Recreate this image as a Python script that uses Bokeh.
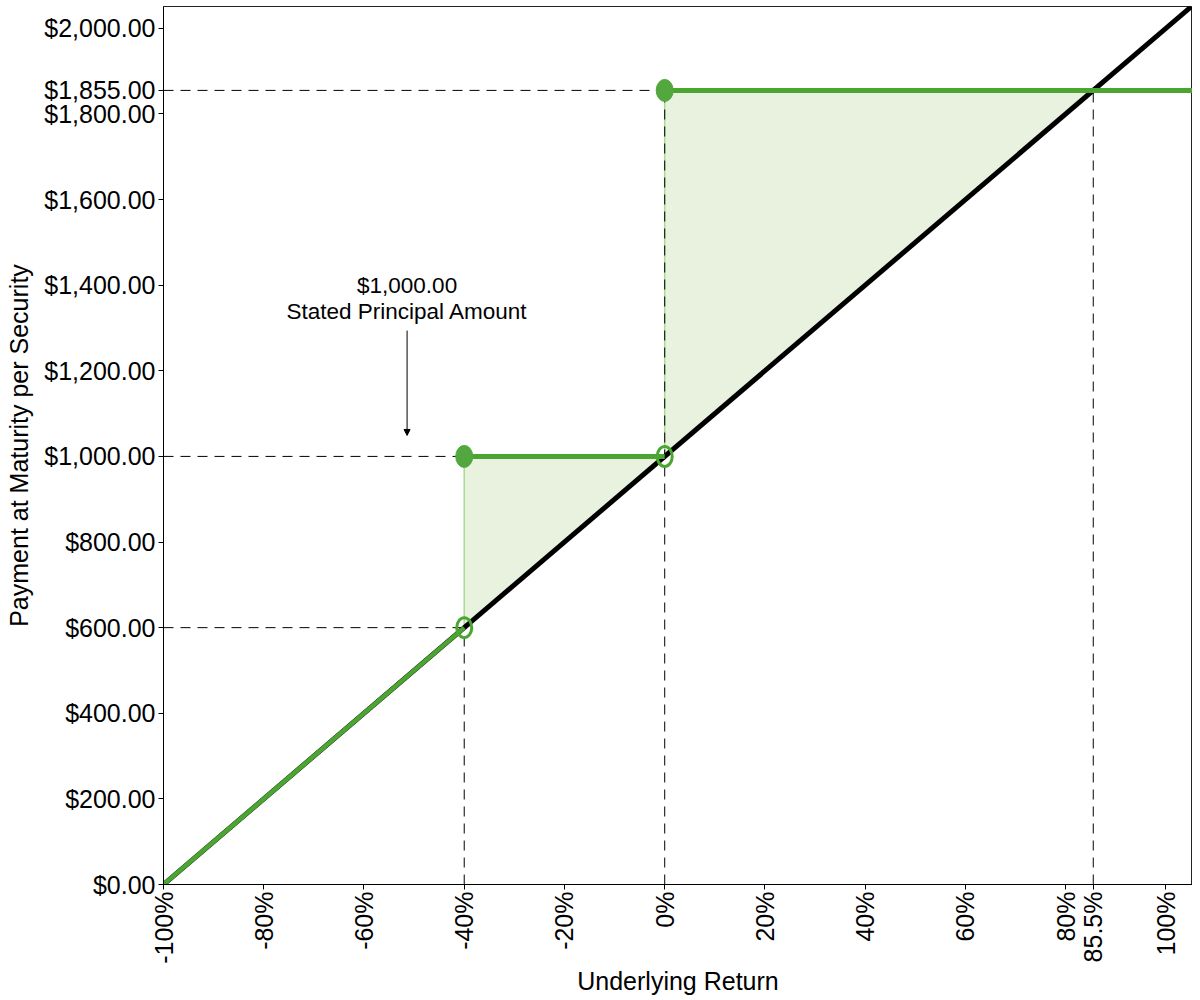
import math
from bokeh.plotting import figure
from bokeh.models import Range1d, FixedTicker, CustomJSTickFormatter, NumeralTickFormatter, Arrow, NormalHead
from bokeh.core.properties import value
from bokeh.embed import file_html
from bokeh.resources import INLINE

# ---- data ----
x_start, x_end = -100, 105.3
y_start, y_end = 0, 2051

# Security payoff (green)
lin_x = [-100, -40]
lin_y = [0, 600]
buf_x = [-40, 0]
buf_y = [1000, 1000]
cap_x = [0, 105.3]
cap_y = [1855, 1855]

# Underlying return line (black)
und_x = [-100, 105.3]
und_y = [0, 2053]

# markers
filled_x = [-40, 0]
filled_y = [1000, 1855]
open_x = [-40, 0]
open_y = [600, 1000]

# shaded areas
shade_xs = [[-40, -40, 0], [0, 0, 85.5]]
shade_ys = [[600, 1000, 1000], [1000, 1855, 1855]]

# thin vertical steps
step_x = [-40, 0]
step_y0 = [600, 1000]
step_y1 = [1000, 1855]

# dashed reference lines
ref_h_y = [600, 1000, 1855]
ref_h_x1 = [-40, -40, 85.5]
ref_v_x = [-40, 0, 85.5]
ref_v_y1 = [600, 1855, 1855]

x_ticks = [-100, -80, -60, -40, -20, 0, 20, 40, 60, 80, 85.5, 100]
y_ticks = [0, 200, 400, 600, 800, 1000, 1200, 1400, 1600, 1800, 1855, 2000]

note_x = -51.4
note_line1_y = 1400
note_line2_y = 1339
arrow_y0 = 1294
arrow_y1 = 1049

GREEN = "#4aa630"
GREEN_MK = "#52a83e"
FONT = "Liberation Sans"

p = figure(frame_width=1029, frame_height=878,
           x_range=Range1d(x_start, x_end), y_range=Range1d(y_start, y_end),
           output_backend="svg", toolbar_location=None,
           min_border_left=163, min_border_top=6, min_border_right=0, min_border_bottom=4)
p.background_fill_color = "white"
p.border_fill_color = "white"
p.outline_line_color = "#222222"
p.outline_line_width = 1
p.grid.visible = False

# shaded areas
p.patches(shade_xs, shade_ys, fill_color="#e8f2df", line_color=None)
# thin light-green steps
p.segment(x0=step_x, y0=step_y0, x1=step_x, y1=step_y1, line_color="#a9dc90", line_width=1.5)

# dashed reference lines
p.segment(x0=[x_start] * len(ref_h_y), y0=ref_h_y, x1=ref_h_x1, y1=ref_h_y,
          line_color="black", line_width=1, line_dash="10 7")
p.segment(x0=ref_v_x, y0=[y_start] * len(ref_v_x), x1=ref_v_x, y1=ref_v_y1,
          line_color="black", line_width=1, line_dash="10 7")

# underlying
p.line(und_x, und_y, line_color="black", line_width=5)
# payoff
p.line(lin_x, lin_y, line_color=GREEN, line_width=4.5)
p.line(buf_x, buf_y, line_color=GREEN, line_width=5)
p.line(cap_x, cap_y, line_color=GREEN, line_width=5)

# markers
p.ellipse(x=filled_x, y=filled_y, width=17, height=22, width_units="screen", height_units="screen",
          fill_color=GREEN_MK, line_color=GREEN_MK)
p.ellipse(x=open_x, y=open_y, width=15, height=20, width_units="screen", height_units="screen",
          fill_color=None, line_color=GREEN, line_width=3)

# annotation
p.text(x=[note_x], y=[note_line1_y], text=["$1,000.00"], text_align="center", text_baseline="middle",
       text_font=value(FONT), text_font_size="22.5px", text_color="black")
p.text(x=[note_x], y=[note_line2_y], text=["Stated Principal Amount"], text_align="center", text_baseline="middle",
       text_font=value(FONT), text_font_size="22.5px", text_color="black")
p.add_layout(Arrow(x_start=note_x, y_start=arrow_y0, x_end=note_x, y_end=arrow_y1,
                   line_color="black", line_width=1,
                   end=NormalHead(size=6, fill_color="black", line_color="black")))

# axes
p.xaxis.ticker = FixedTicker(ticks=x_ticks)
p.yaxis.ticker = FixedTicker(ticks=y_ticks)
p.xaxis.formatter = CustomJSTickFormatter(code="return tick + '%';")
p.yaxis.formatter = NumeralTickFormatter(format="$0,0.00")
p.xaxis.major_label_orientation = math.pi / 2
for ax in (p.xaxis, p.yaxis):
    ax.axis_line_color = "black"
    ax.major_tick_line_color = "black"
    ax.major_tick_out = 5
    ax.major_tick_in = 0
    ax.minor_tick_line_color = None
    ax.major_label_text_font = FONT
    ax.major_label_text_font_size = "25px"
    ax.major_label_text_color = "black"
    ax.axis_label_text_font = FONT
    ax.axis_label_text_font_size = "25px"
    ax.axis_label_text_font_style = "normal"
    ax.axis_label_text_color = "black"
    ax.major_label_standoff = 3
    ax.axis_label_standoff = 8
p.xaxis.major_label_standoff = 2
p.xaxis.axis_label_standoff = 0
p.xaxis.axis_label = "Underlying Return"
p.yaxis.axis_label = "Payment at Maturity per Security"

open("out.html", "w").write(file_html(p, INLINE))
